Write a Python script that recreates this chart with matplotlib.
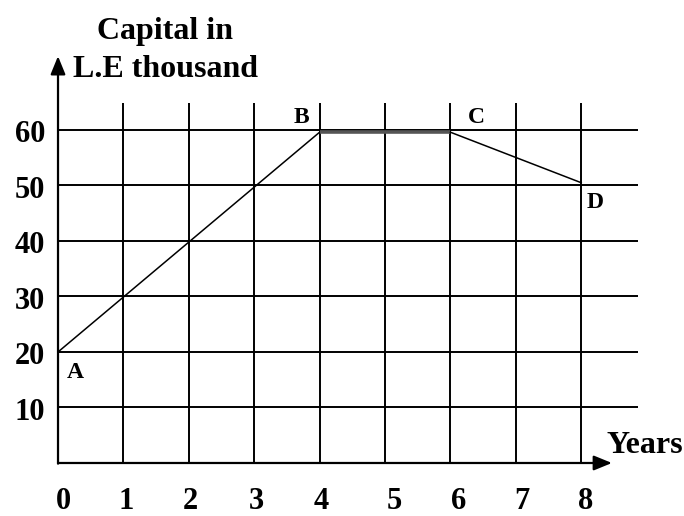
import matplotlib
matplotlib.use("Agg")
from matplotlib import pyplot as plt

# Data
years = [0, 4, 6, 8]
capital = [20, 59.6, 59.6, 50.5]
point_names = ["A", "B", "C", "D"]

x_ticks = [0, 1, 2, 3, 4, 5, 6, 7, 8]
y_ticks = [10, 20, 30, 40, 50, 60]

plt.rcParams["font.family"] = ["Liberation Serif", "DejaVu Serif"]
plt.rcParams["font.weight"] = "bold"

fig = plt.figure(figsize=(6.84, 5.16), dpi=100)
ax = fig.add_axes([0, 0, 1, 1])
ax.set_xlim(-0.887, 9.572)
ax.set_ylim(-9.55, 83.42)
ax.axis("off")

# grid
ax.hlines(y_ticks, 0, 8.87, color="black", lw=1.4)
ax.vlines(x_ticks[1:], 0, 64.9, color="black", lw=1.4)

# axes with arrows
arrow = dict(arrowstyle="-|>,head_length=1.1,head_width=0.45",
             color="black", lw=1.6, shrinkA=0, shrinkB=0)
ax.annotate("", xy=(0, 73.3), xytext=(0, -0.12), arrowprops=arrow)
ax.annotate("", xy=(8.47, 0), xytext=(0, 0), arrowprops=arrow)

# the capital line
ax.plot(years[:2], capital[:2], color="black", lw=1.1)
ax.plot(years[1:3], capital[1:3], color="#555555", lw=2.6, solid_capstyle="butt")
ax.plot(years[2:], capital[2:], color="black", lw=1.1)

# point names (offsets in data units)
offsets = [(0.26, -4.7), (-0.28, 1.7), (0.39, 1.7), (0.21, -4.6)]
for name, xv, yv, (dx, dy) in zip(point_names, years, capital, offsets):
    ax.text(xv + dx, yv + dy, name, fontsize=17, fontweight="bold",
            ha="center", va="baseline")

# tick labels
for yv in y_ticks:
    ax.text(-0.2, yv - 2.2, str(yv), fontsize=22, fontweight="bold",
            ha="right", va="baseline")
label_shift = [0.09, 0.05, 0.03, 0.04, 0.02, 0.15, 0.12, 0.1, 0.07]
for xv, dx in zip(x_ticks, label_shift):
    ax.text(xv + dx, -8.25, str(xv), fontsize=22, fontweight="bold",
            ha="center", va="baseline")

# axis titles
ax.text(1.64, 76.4, "Capital in", fontsize=23, fontweight="bold", ha="center", va="baseline")
ax.text(0.23, 69.5, "L.E thousand", fontsize=23, fontweight="bold", ha="left", va="baseline")
ax.text(8.39, 1.8, "Years", fontsize=23, fontweight="bold", ha="left", va="baseline")

fig.savefig("out.png", dpi=100)
